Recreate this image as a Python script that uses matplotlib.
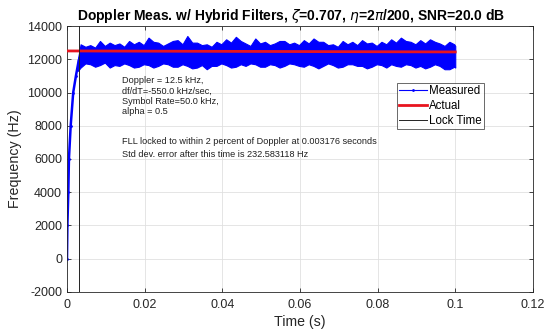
import numpy as np
import matplotlib.pyplot as plt

# rising part of the measured Doppler (s, Hz)
rise_t = [0.0, 0.0001, 0.00034, 0.0005, 0.00095, 0.0016, 0.0023, 0.0030, 0.0035]
rise_f = [0, 2000, 4000, 6000, 8000, 10000, 11000, 11900, 12200]

# envelope of the noisy measured band after lock (s, Hz)
band_t = [0.0028,
          0.0035, 0.00475, 0.006, 0.00725, 0.0085, 0.00975, 0.011, 0.01225, 0.0135, 0.01475,
          0.016, 0.01725, 0.0185, 0.01975, 0.021, 0.02225, 0.0235, 0.02475, 0.026, 0.02725,
          0.0285, 0.02975, 0.031, 0.03225, 0.0335, 0.03475, 0.036, 0.03725, 0.0385, 0.03975,
          0.041, 0.04225, 0.0435, 0.04475, 0.046, 0.04725, 0.0485, 0.04975, 0.051, 0.05225,
          0.0535, 0.05475, 0.056, 0.05725, 0.0585, 0.05975, 0.061, 0.06225, 0.0635, 0.06475,
          0.066, 0.06725, 0.0685, 0.06975, 0.071, 0.07225, 0.0735, 0.07475, 0.076, 0.07725,
          0.0785, 0.07975, 0.081, 0.08225, 0.0835, 0.08475, 0.086, 0.08725, 0.0885, 0.08975,
          0.091, 0.09225, 0.0935, 0.09475, 0.096, 0.09725, 0.0985, 0.09975, 0.1]
band_hi = [12000,
           12900, 12750, 12850, 12700, 13100, 12800, 13000, 12850, 12950, 12750,
           13100, 12900, 13050, 12850, 13300, 13050, 13000, 12800, 12950, 13100,
           13150, 12900, 13400, 13000, 13000, 12850, 12900, 12750, 13050, 12900,
           13200, 13000, 13350, 13100, 12950, 12800, 13250, 12950, 13050, 12850,
           12950, 13100, 13100, 12900, 13000, 12850, 13150, 12950, 13250, 13050,
           13050, 12850, 12900, 12750, 13100, 12900, 13050, 12850, 13150, 12950,
           13000, 12800, 13050, 12900, 13200, 13000, 13300, 13100, 13050, 12900,
           13150, 12950, 13200, 13050, 12950, 12800, 13050, 12900, 12800]
band_lo = [11300,
           11500, 11750, 11700, 11550, 11650, 11800, 11500, 11650, 11600, 11750,
           11650, 11500, 11550, 11700, 11650, 11500, 11600, 11750, 11700, 11550,
           11550, 11700, 11600, 11450, 11500, 11650, 11400, 11600, 11600, 11750,
           11650, 11500, 11550, 11700, 11600, 11750, 11700, 11550, 11550, 11700,
           11650, 11500, 11600, 11750, 11700, 11600, 11550, 11700, 11600, 11450,
           11600, 11750, 11650, 11500, 11550, 11700, 11700, 11600, 11600, 11450,
           11550, 11700, 11650, 11500, 11700, 11600, 11550, 11700, 11650, 11500,
           11600, 11450, 11550, 11700, 11600, 11400, 11400, 11550, 11500]

actual_t = [0.0, 0.1]
actual_f = [12500, 12440]

lock_time = 0.003176

notes = ['Doppler = 12.5 kHz,', 'df/dT=-550.0 kHz/sec,', 'Symbol Rate=50.0 kHz,', 'alpha = 0.5']
lock_msg = ['FLL locked to within 2 percent of Doppler at 0.003176 seconds',
            'Std dev. error after this time is 232.583118 Hz']

plt.rcParams['font.family'] = ['Liberation Sans', 'DejaVu Sans']
plt.rcParams['axes.unicode_minus'] = False

fig = plt.figure(figsize=(5.46, 3.36), dpi=100)
ax = fig.add_axes([0.1227, 0.131, 0.8533, 0.7916])

ax.fill_between(band_t, band_lo, band_hi, color='blue', lw=0.8, zorder=2)
ax.plot(rise_t, rise_f, color='blue', lw=1.8, marker='.', ms=2, label='Measured', zorder=2)
ax.plot(actual_t, actual_f, color='#e8141e', lw=2, label='Actual', zorder=3)
ax.axvline(lock_time, color='#222222', lw=0.7, label='Lock Time', zorder=3)

ax.set_xlim(0, 0.12)
ax.set_ylim(-2000, 14000)
ax.set_xticks([0, 0.02, 0.04, 0.06, 0.08, 0.1, 0.12])
ax.set_xticklabels(['0', '0.02', '0.04', '0.06', '0.08', '0.1', '0.12'])
ax.set_yticks(np.arange(-2000, 14001, 2000))
ax.grid(True, color='#e0e0e0', lw=0.6)
ax.set_axisbelow(True)
ax.tick_params(direction='in', top=True, right=True, length=3, labelsize=9,
               colors='#262626', width=0.6)
ax.tick_params(axis='x', pad=5)
for s in ax.spines.values():
    s.set_color('#262626')
    s.set_linewidth(0.6)

ax.set_xlabel('Time (s)', fontsize=10.2, color='#262626', labelpad=3)
ax.set_ylabel('Frequency (Hz)', fontsize=10.3, color='#262626', labelpad=4)
ax.set_title(r'Doppler Meas. w/ Hybrid Filters, $\zeta$=0.707, $\eta$=2$\pi$/200, SNR=20.0 dB',
             fontsize=10, fontweight='bold', pad=4, x=0.48)

for i, s in enumerate(notes):
    ax.text(0.0142, 10700 - i * 610, s, fontsize=6.6, va='center', color='#202020')
for i, s in enumerate(lock_msg):
    ax.text(0.0142, 7050 - i * 765, s, fontsize=6.6, va='center', color='#202020')

leg = ax.legend(loc='upper left', bbox_to_anchor=(0.708, 0.786), fontsize=8.3,
                frameon=True, fancybox=False, borderpad=0.2, labelspacing=0.25,
                handlelength=2.4, handletextpad=0.2, borderaxespad=0)
leg.get_frame().set_edgecolor('#262626')
leg.get_frame().set_linewidth(0.6)
leg.legend_handles[0].set_linewidth(0.8)

fig.savefig('out.png', dpi=100)
